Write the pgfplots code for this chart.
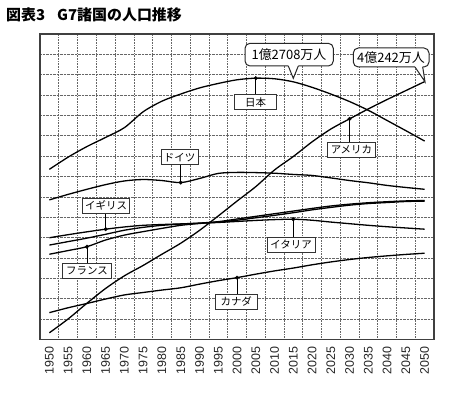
\documentclass[border=0pt]{standalone}
\usepackage{fontspec}
\setmainfont{Liberation Sans}
\newfontfamily\jp{Noto Sans CJK JP}
\usepackage{pgfplots}
\usepackage{pgfplotstable}
\pgfplotsset{compat=1.18}

% values in grid units (each country drawn on its own scale, as in the original)
\pgfplotstableread{
year japan usa germany uk france italy canada
1950 8.35 0.32 6.85 4.99 4.18 4.63 1.31
1955 8.95 1.00 7.12 5.14 4.36 4.80 1.55
1960 9.47 1.77 7.37 5.28 4.55 4.97 1.76
1965 9.92 2.50 7.60 5.41 4.88 5.16 1.98
1970 10.40 3.12 7.78 5.52 5.12 5.36 2.18
1975 11.18 3.63 7.85 5.60 5.29 5.50 2.30
1980 11.70 4.18 7.80 5.64 5.45 5.60 2.42
1985 12.05 4.72 7.70 5.67 5.60 5.66 2.53
1990 12.35 5.35 7.90 5.71 5.69 5.70 2.71
1995 12.57 6.06 8.15 5.78 5.76 5.74 2.88
2000 12.75 6.79 8.20 5.91 5.85 5.79 3.03
2005 12.83 7.50 8.19 6.04 5.97 5.84 3.20
2010 12.80 8.32 8.16 6.17 6.09 5.88 3.36
2015 12.65 8.98 8.10 6.30 6.22 5.90 3.50
2020 12.38 9.70 8.05 6.43 6.36 5.85 3.66
2025 12.05 10.33 7.93 6.55 6.48 5.76 3.80
2030 11.68 10.83 7.80 6.64 6.59 5.68 3.92
2035 11.25 11.32 7.69 6.71 6.67 5.60 4.02
2040 10.75 11.78 7.56 6.76 6.72 5.53 4.10
2045 10.25 12.22 7.46 6.80 6.77 5.47 4.17
2050 9.74 12.66 7.37 6.82 6.79 5.41 4.23
}\popdata

\tikzset{
  lbl/.style={draw=black!80, line width=0.8bp, fill=white, inner sep=1bp,
    minimum height=15bp, font=\jp\fontsize{10.5}{10.5}\selectfont},
  pline/.style={black, line width=1.3bp, smooth, tension=0.5},
}

\begin{document}
\begin{tikzpicture}
\useasboundingbox (0,0) rectangle (450bp,405bp);
\node[anchor=west, inner sep=0pt] at (6bp,390bp)
  {\jp\bfseries\fontsize{15}{15}\selectfont 図表3\hspace{12bp}G7諸国の人口推移};

\begin{axis}[
  at={(40bp,65.7bp)}, anchor=south west,
  scale only axis, width=394bp, height=305.3bp,
  xmin=1947.5, xmax=2052.5, ymin=0, ymax=15,
  xtick={1950,1955,...,2050},
  minor xtick={1952.5,1957.5,...,2047.5},
  ytick={1,...,14}, yticklabels={},
  major tick length=0pt, minor tick length=0pt,
  xmajorgrids=false, xminorgrids=true, ymajorgrids=true,
  grid style={densely dotted, black!60, line width=0.6bp},
  minor grid style={densely dotted, black!60, line width=0.6bp},
  axis line style={black!75, line width=1.2bp},
  xticklabel style={rotate=90, anchor=east, inner sep=0pt, black!85,
    font=\fontsize{12.5}{12.5}\selectfont,
    /pgf/number format/1000 sep={},
    /pgf/number format/assume math mode=true},
  xticklabel shift=7bp,
]
\addplot[pline] table[x=year, y=japan] {\popdata};
\addplot[pline] table[x=year, y=usa] {\popdata};
\addplot[pline] table[x=year, y=germany] {\popdata};
\addplot[pline] table[x=year, y=uk] {\popdata};
\addplot[pline] table[x=year, y=france] {\popdata};
\addplot[pline] table[x=year, y=italy] {\popdata};
\addplot[pline] table[x=year, y=canada] {\popdata};

% points that the labels point at
\addplot[only marks, mark=*, mark size=1.8bp, black] coordinates {
  (2005,12.83) (1985,7.70) (1965,5.41) (1960,4.55) (2015,5.90) (2000,3.03) (2030,10.83)};

\coordinate (djp) at (axis cs:2005,12.83);
\coordinate (dge) at (axis cs:1985,7.70);
\coordinate (duk) at (axis cs:1965,5.41);
\coordinate (dfr) at (axis cs:1960,4.55);
\coordinate (dit) at (axis cs:2015,5.90);
\coordinate (dca) at (axis cs:2000,3.03);
\coordinate (dus) at (axis cs:2030,10.83);

\node[lbl, minimum width=41.7bp] (njp) at (axis cs:2004.95,11.64) {日本};
\node[lbl, minimum width=37.3bp] (nge) at (axis cs:1984.7,8.94) {ドイツ};
\node[lbl, minimum width=46.7bp] (nuk) at (axis cs:1965.1,6.56) {イギリス};
\node[lbl, minimum width=48.3bp] (nfr) at (axis cs:1960,3.36) {フランス};
\node[lbl, minimum width=48bp] (nit) at (axis cs:2014.4,4.66) {イタリア};
\node[lbl, minimum width=41.3bp] (nca) at (axis cs:1999.8,1.85) {カナダ};
\node[lbl, minimum width=47.7bp] (nus) at (axis cs:2030.5,9.32) {アメリカ};

\draw[line width=0.8bp] (djp) -- (djp |- njp.north);
\draw[line width=0.8bp] (dge) -- (dge |- nge.south);
\draw[line width=0.8bp] (duk) -- (duk |- nuk.south);
\draw[line width=0.8bp] (dfr) -- (dfr |- nfr.north);
\draw[line width=0.8bp] (dit) -- (dit |- nit.north);
\draw[line width=0.8bp] (dca) -- (dca |- nca.north);
\draw[line width=0.8bp] (dus) -- (dus |- nus.north);
\end{axis}

% speech bubbles (page coordinates in bp)
\begin{scope}[x=1bp, y=1bp]
  \draw[black!85, line width=1bp, fill=white, rounded corners=5bp] (245,339) rectangle (333.3,361.7);
  \fill[white] (288.3,340.5) -- (288.3,339) -- (293.3,326.7) -- (298.3,339) -- (298.3,340.5) -- cycle;
  \draw[black!85, line width=1bp] (288.3,339) -- (293.3,326.7) -- (298.3,339);
  \node[font=\jp\fontsize{13}{13}\selectfont] at (289,350.5) {1億2708万人};

  \draw[black!85, line width=1bp, fill=white, rounded corners=5bp] (353.3,338) rectangle (429,357);
  \fill[white] (415,339.5) -- (415,338) -- (425,323.3) -- (422.7,338) -- (422.7,339.5) -- cycle;
  \draw[black!85, line width=1bp] (415,338) -- (425,323.3) -- (422.7,338);
  \node[font=\jp\fontsize{13}{13}\selectfont] at (391,347.5) {4億242万人};
\end{scope}
\end{tikzpicture}
\end{document}
